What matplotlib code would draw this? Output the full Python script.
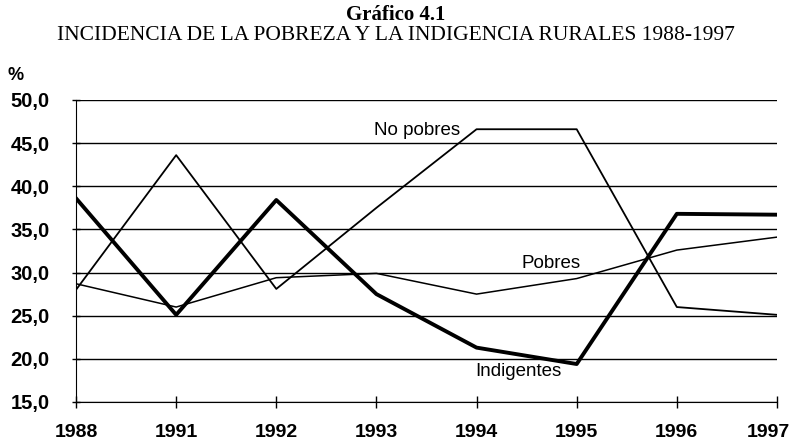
import numpy as np
import matplotlib
import matplotlib.pyplot as plt
from matplotlib.transforms import ScaledTranslation

matplotlib.use("Agg")

years = ["1988", "1991", "1992", "1993", "1994", "1995", "1996", "1997"]
no_pobres = [28.0, 43.6, 28.1, 37.5, 46.6, 46.6, 26.0, 25.1]
pobres = [28.7, 26.0, 29.4, 29.9, 27.5, 29.3, 32.6, 34.1]
indigentes = [38.6, 25.1, 38.4, 27.5, 21.3, 19.4, 36.8, 36.7]

sans = ["Liberation Sans", "DejaVu Sans"]
serif = ["Liberation Serif", "DejaVu Serif"]

fig = plt.figure(figsize=(7.92, 4.42), dpi=100)
ax = fig.add_axes([0.096, 0.0905, 0.885, 0.6835])

x = np.arange(len(years))
ax.plot(x, no_pobres, color="black", lw=1.3)
ax.plot(x, pobres, color="black", lw=1.1)
ax.plot(x, indigentes, color="black", lw=2.8)

ax.set_xlim(0, len(years) - 1)
ax.set_ylim(15, 50)
ax.set_yticks(np.arange(15, 51, 5))
ax.set_yticklabels([f"{v:.1f}".replace(".", ",") for v in range(15, 51, 5)],
                   family=sans, fontsize=14.5, fontweight="bold")
ax.set_xticks(x)
ax.set_xticklabels(years, family=sans, fontsize=14, fontweight="bold")
ax.tick_params(axis="x", direction="inout", length=8, width=1, pad=12)
ax.tick_params(axis="y", direction="inout", length=6, width=1, pad=16)
ax.grid(axis="y", color="black", lw=1)
ax.set_axisbelow(True)
for s in ["top", "right"]:
    ax.spines[s].set_visible(False)

# keep the last year label inside the canvas
last = ax.get_xticklabels()[-1]
last.set_transform(last.get_transform() + ScaledTranslation(-0.09, 0, fig.dpi_scale_trans))

ax.text(3.41, 46.5, "No pobres", family=sans, fontsize=13.5, ha="center", va="center")
ax.text(4.74, 31.1, "Pobres", family=sans, fontsize=13.5, ha="center", va="center")
ax.text(4.42, 18.5, "Indigentes", family=sans, fontsize=13.5, ha="center", va="center")

fig.text(0.5, 0.966, "Gráfico 4.1", family=serif, fontsize=15, fontweight="bold",
         ha="center", va="center")
fig.text(0.5, 0.92, "INCIDENCIA DE LA POBREZA Y LA INDIGENCIA RURALES 1988-1997",
         family=serif, fontsize=15.5, ha="center", va="center")
fig.text(0.02, 0.83, "%", family=sans, fontsize=13, fontweight="bold",
         ha="center", va="center")

fig.savefig("out.png", dpi=100)
